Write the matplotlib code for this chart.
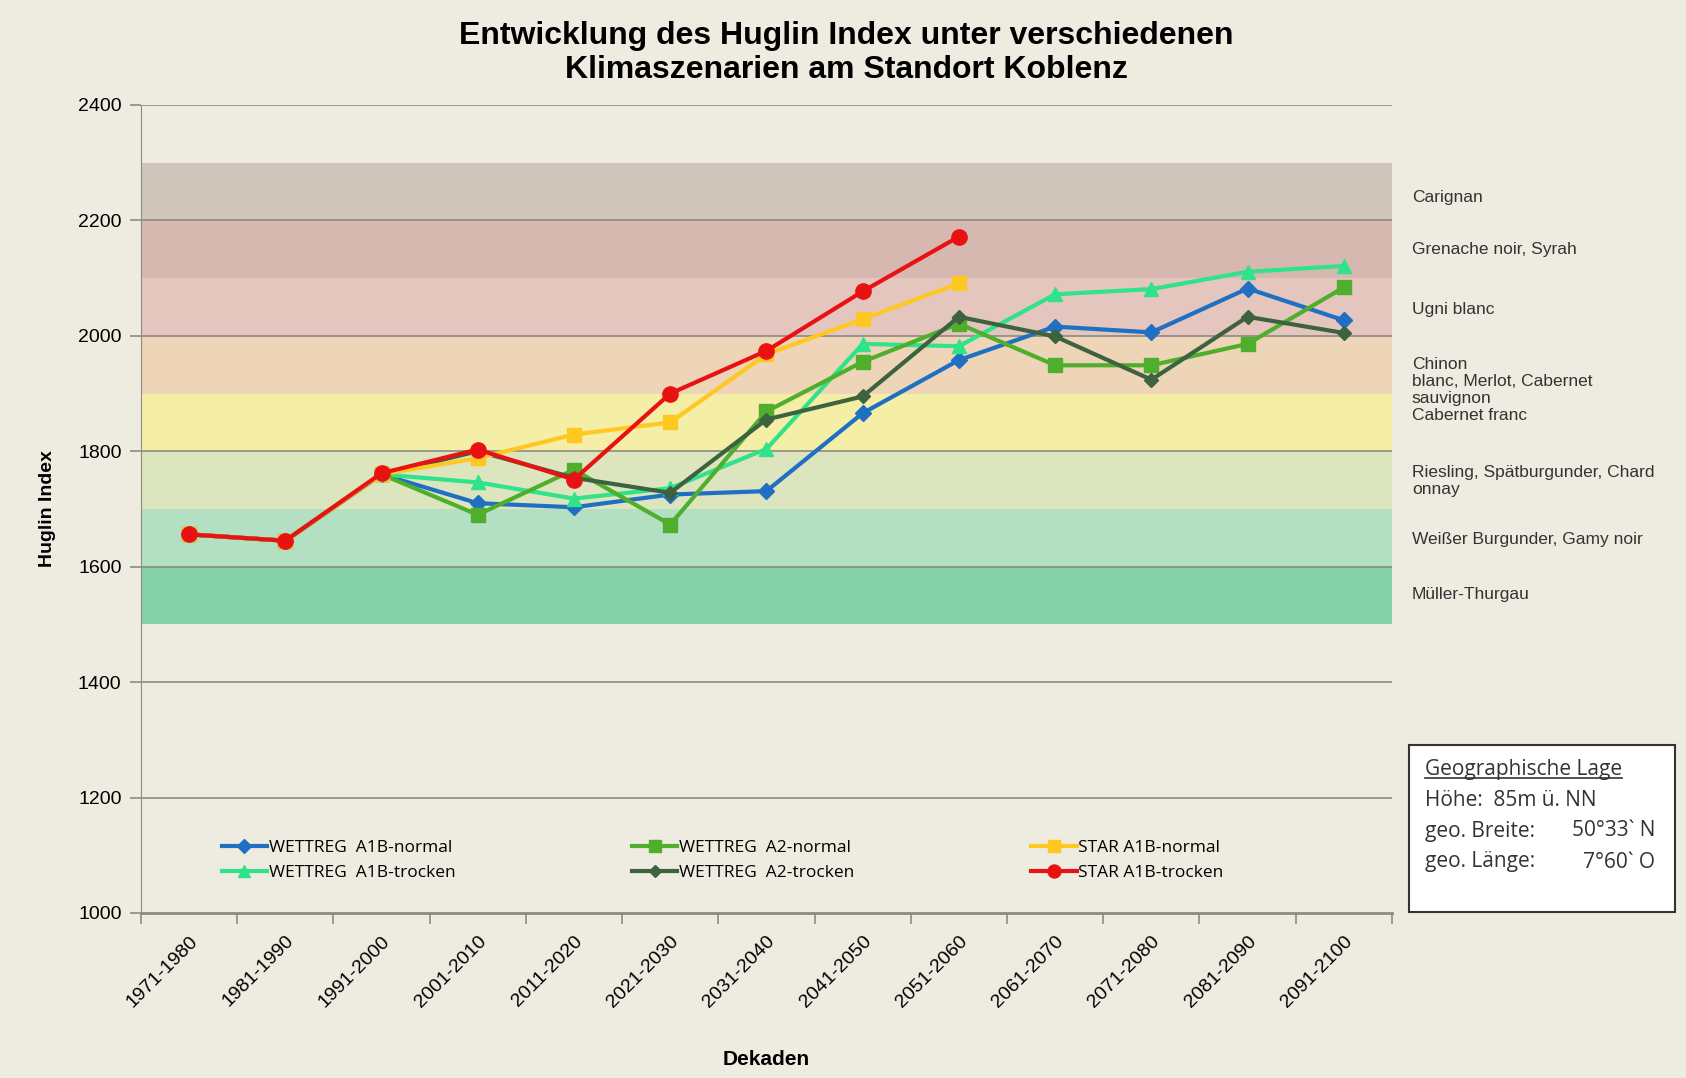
import numpy as np
import matplotlib
matplotlib.use("Agg")
import matplotlib.pyplot as plt
from matplotlib.patches import Rectangle

# decades on the x axis
dekaden = ["1971-1980", "1981-1990", "1991-2000", "2001-2010", "2011-2020",
           "2021-2030", "2031-2040", "2041-2050", "2051-2060", "2061-2070",
           "2071-2080", "2081-2090", "2091-2100"]

nan = np.nan
wettreg_a1b_normal = [1656, 1645, 1760, 1710, 1703, 1725, 1731, 1866, 1958, 2016, 2006, 2082, 2027]
wettreg_a1b_trocken = [1656, 1645, 1760, 1746, 1718, 1736, 1804, 1986, 1982, 2072, 2081, 2111, 2121]
wettreg_a2_normal = [1656, 1645, 1760, 1690, 1768, 1673, 1869, 1955, 2021, 1949, 1949, 1986, 2084]
wettreg_a2_trocken = [1656, 1645, 1760, 1800, 1754, 1728, 1855, 1895, 2033, 1999, 1924, 2033, 2005]
star_a1b_normal = [1656, 1645, 1760, 1788, 1829, 1850, 1968, 2029, 2091, nan, nan, nan, nan]
star_a1b_trocken = [1656, 1645, 1762, 1803, 1751, 1900, 1974, 2077, 2172, nan, nan, nan, nan]

# suitability bands and grape names on the right
band_edges = [1500, 1600, 1700, 1800, 1900, 2000, 2100, 2200, 2300]
band_colors = ["#86d3a9", "#b3dfc3", "#dde5bf", "#f4eea7", "#eed5b7",
               "#e4c6be", "#d7b8b0", "#d0c6bb"]
sorten = ["Müller-Thurgau", "Weißer Burgunder, Gamy noir",
          "Riesling, Spätburgunder, Chard\nonnay",
          "Chinon\nblanc, Merlot, Cabernet\nsauvignon\nCabernet franc",
          "Ugni blanc", "Grenache noir, Syrah", "Carignan"]
sorten_y = [1552, 1647, 1748, 1906, 2046, 2150, 2240]

bg = "#eeebe0"
narrow = ["Liberation Sans Narrow", "Liberation Sans", "DejaVu Sans"]

fig = plt.figure(figsize=(16.86, 10.78), dpi=100, facecolor=bg)
ax = fig.add_axes([0.0836, 0.1531, 0.742, 0.7495], facecolor=bg)

x = np.arange(len(dekaden))
ax.set_xlim(-0.5, len(dekaden) - 0.5)
ax.set_ylim(1000, 2400)

for i, c in enumerate(band_colors):
    ax.axhspan(band_edges[i], band_edges[i + 1], color=c, lw=0, zorder=0)

for yv in range(1200, 2401, 200):
    ax.axhline(yv, color="#8c8a84", lw=1.2, zorder=1)

series = [
    ("WETTREG  A1B-normal", wettreg_a1b_normal, "#1f6fc3", "D", 8),
    ("WETTREG  A1B-trocken", wettreg_a1b_trocken, "#30e28a", "^", 10),
    ("WETTREG  A2-normal", wettreg_a2_normal, "#4fae2c", "s", 10),
    ("WETTREG  A2-trocken", wettreg_a2_trocken, "#3d6240", "D", 7),
    ("STAR A1B-normal", star_a1b_normal, "#ffc722", "s", 10),
    ("STAR A1B-trocken", star_a1b_trocken, "#e81212", "o", 11),
]
for k, (name, vals, col, mk, ms) in enumerate(series):
    ax.plot(x, vals, color=col, lw=3, marker=mk, ms=ms, label=name, zorder=3 + k)

ax.set_yticks(range(1000, 2401, 200))
ax.set_yticklabels([str(v) for v in range(1000, 2401, 200)], family=narrow, fontsize=14)
ax.set_xticks(x)
ax.set_xticklabels(dekaden, rotation=45, ha="right", rotation_mode="anchor",
                   family=narrow, fontsize=14)
ax.set_xticks(np.arange(-0.5, len(dekaden)), minor=True)
ax.tick_params(axis="x", which="major", length=0, pad=14)
ax.tick_params(axis="x", which="minor", length=8, color="#8c8a84", width=1.2)
ax.tick_params(axis="y", length=8, color="#8c8a84", width=1.2, pad=6)

for s in ["top", "right"]:
    ax.spines[s].set_visible(False)
ax.spines["left"].set_color("#8c8a84")
ax.spines["bottom"].set_color("#8c8a84")
ax.spines["bottom"].set_linewidth(2)

ax.set_ylabel("Huglin Index", fontsize=14, fontweight="bold", family=narrow, labelpad=16)
ax.set_xlabel("Dekaden", fontsize=15, fontweight="bold", family=narrow, labelpad=28)

fig.text(0.502, 0.951, "Entwicklung des Huglin Index unter verschiedenen\nKlimaszenarien am Standort Koblenz",
         ha="center", va="center", fontsize=23, fontweight="bold", family=narrow, linespacing=1.15)

for name, yv in zip(sorten, sorten_y):
    ax.text(1.016, yv, name, transform=ax.get_yaxis_transform(), ha="left", va="center",
            fontsize=12.5, family=narrow, color="#333333", linespacing=1.15, clip_on=False)

leg = ax.legend(ncol=3, loc="lower left", bbox_to_anchor=(0.052, 0.02), frameon=False,
                prop={"family": ["Open Sans", "DejaVu Sans"], "size": 12.5},
                columnspacing=10.2, handlelength=2.6, handletextpad=0.1, labelspacing=0.5,
                markerscale=0.85)

# info box
box = Rectangle((1409 / 1686, 1 - 912 / 1078), 266 / 1686, 167 / 1078, transform=fig.transFigure,
                facecolor="white", edgecolor="#333333", lw=1.5)
fig.patches.append(box)
info_font = {"family": ["Open Sans", "DejaVu Sans"], "size": 15, "color": "#333333"}
head = fig.text(1425 / 1686, 1 - 770 / 1078, "Geographische Lage", va="center", **info_font)
fig.canvas.draw()
bb = head.get_window_extent().transformed(fig.transFigure.inverted())
fig.add_artist(plt.Line2D([bb.x0, bb.x1], [bb.y0 + 0.002, bb.y0 + 0.002], color="#333333", lw=1.2))
fig.text(1425 / 1686, 1 - 800 / 1078, "Höhe:  85m ü. NN", va="center", **info_font)
fig.text(1425 / 1686, 1 - 831 / 1078, "geo. Breite:", va="center", **info_font)
fig.text(1655 / 1686, 1 - 831 / 1078, "50°33` N", va="center", ha="right", **info_font)
fig.text(1425 / 1686, 1 - 862 / 1078, "geo. Länge:", va="center", **info_font)
fig.text(1655 / 1686, 1 - 862 / 1078, "7°60` O", va="center", ha="right", **info_font)

fig.savefig("out.png", dpi=100, facecolor=bg)
